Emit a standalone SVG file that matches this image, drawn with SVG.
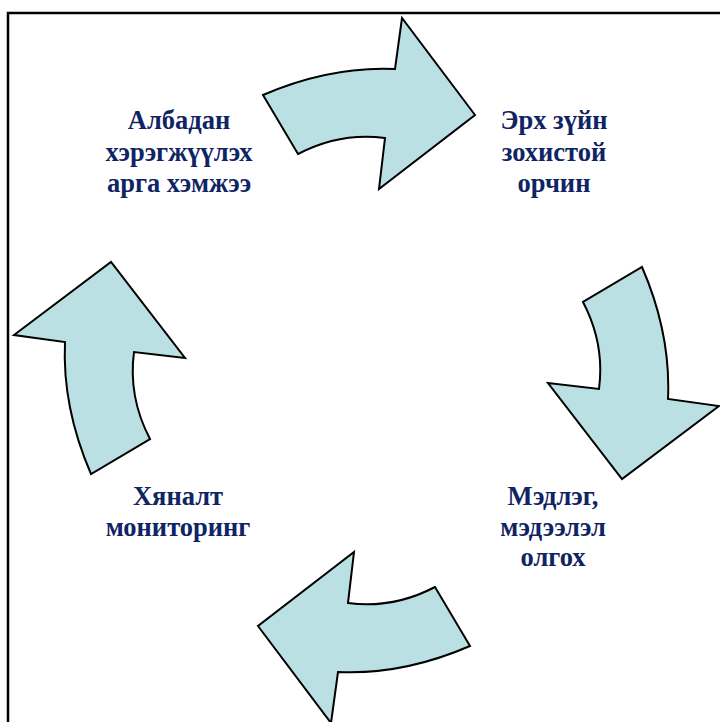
<svg xmlns="http://www.w3.org/2000/svg" width="720" height="722" viewBox="0 0 720 722">
<defs>
<style>
.arrow{fill:#BBE0E3;stroke:#000;stroke-width:2;stroke-linejoin:miter}
.lbl{font-family:"Liberation Serif","Times New Roman",serif;font-weight:bold;font-size:26.5px;fill:#0F2464;text-anchor:middle}
</style>
<path id="arr" d="M263,95 Q330,66 395,69 L402,18 L475,115 L379,189 L385,138 Q340,132 298,154 Z"/>
</defs>
<rect width="720" height="722" fill="#fff"/>
<path d="M8,722 V13 H720" fill="none" stroke="#000" stroke-width="2.5"/>
<g id="connectors">
<use href="#arr" class="arrow"/>
<use href="#arr" class="arrow" transform="rotate(90 366.5 370.5)"/>
<use href="#arr" class="arrow" transform="rotate(180 366.5 370.5)"/>
<use href="#arr" class="arrow" transform="rotate(270 366.5 370.5)"/>
</g>
<g id="node-albadan">
<text class="lbl" x="179" y="129">Албадан</text>
<text class="lbl" x="179" y="161">хэрэгжүүлэх</text>
<text class="lbl" x="179" y="192">арга хэмжээ</text>
</g>
<g id="node-erkh">
<text class="lbl" x="554" y="129">Эрх зүйн</text>
<text class="lbl" x="554" y="161">зохистой</text>
<text class="lbl" x="554" y="192">орчин</text>
</g>
<g id="node-medleg">
<text class="lbl" x="553" y="505">Мэдлэг,</text>
<text class="lbl" x="553" y="536">мэдээлэл</text>
<text class="lbl" x="553" y="566">олгох</text>
</g>
<g id="node-khyanalt">
<text class="lbl" x="178" y="505">Хяналт</text>
<text class="lbl" x="178" y="536">мониторинг</text>
</g>
</svg>
